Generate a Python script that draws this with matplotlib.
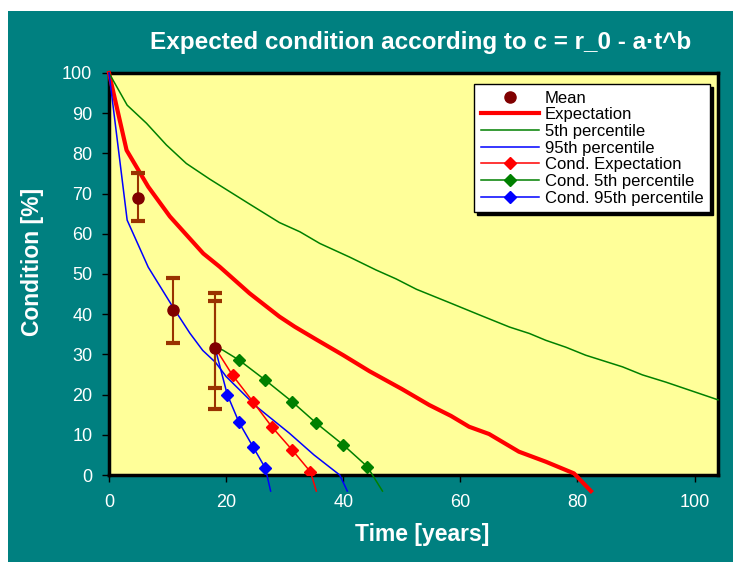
import numpy as np
import matplotlib
matplotlib.use("Agg")
import matplotlib.pyplot as plt
from matplotlib.patches import Rectangle
from matplotlib.lines import Line2D

plt.rcParams['font.family'] = ['Liberation Sans', 'DejaVu Sans']

# observed means with error bars
mean_t = [5.0, 10.9, 18.1]
mean_c = [68.9, 41.0, 31.7]
err_lo = [63.2, 32.9, 16.4]
err_hi = [75.1, 49.1, 45.3]
# second (inner) error bar at the last observation
err2_lo = [21.7]
err2_hi = [43.4]

# expectation curve
exp_t = [0, 3.0, 6.7, 10.4, 16.1, 18.9, 24, 29.1, 31.7, 35.4, 40, 44.5, 50, 54.7, 58.4, 61.5, 64.9, 70, 74.6, 79.4, 82.3]
exp_c = [100, 80.8, 71.7, 64.3, 55.1, 51.8, 45.2, 39.4, 36.9, 33.7, 29.8, 25.8, 21.4, 17.4, 14.7, 12, 10.2, 5.8, 3.3, 0.4, -4]

# 5th percentile
p5_t = [0, 3.1, 6.4, 9.8, 13.2, 17.2, 24, 29.1, 32.6, 36, 41.1, 45.6, 49, 52.5, 58.1,
        63.3, 68.4, 71.8, 74.6, 78, 81.4, 87.7, 91.1, 95.1, 104]
p5_c = [100, 92, 87.5, 82.1, 77.5, 73.6, 67.4, 62.8, 60.5, 57.6, 54.2, 51, 48.8, 46.2, 42.9,
        39.8, 36.8, 35.2, 33.5, 31.8, 29.8, 26.9, 24.9, 23.1, 18.7]

# 95th percentile
p95_t = [0, 3.1, 6.7, 10.9, 13.8, 16, 18.2, 20, 25.2, 30.8, 35, 39.4, 40.7]
p95_c = [100, 63.4, 51.7, 41.8, 35.3, 31, 28, 24.5, 17, 10.4, 5, 0, -4]

# conditional curves starting at last observation
cexp_t = [18.1, 21.1, 24.6, 27.8, 31.3, 34.4, 35.4]
cexp_c = [31.7, 24.8, 18.2, 12, 6.2, 0.8, -4]
c5_t = [18.1, 19.4, 22.2, 26.7, 31.3, 35.4, 40, 44.1, 46.7]
c5_c = [31.7, 31.1, 28.6, 23.6, 18.2, 12.9, 7.5, 2.1, -4]
c95_t = [18.1, 20.2, 22.2, 24.6, 26.7, 27.6]
c95_c = [31.7, 20, 13.1, 7, 1.7, -4]

teal = '#008080'
fig = plt.figure(figsize=(7.33, 5.62), dpi=100)
fig.patch.set_facecolor('white')
fig.patches.append(Rectangle((8 / 733, 0), 1, 1 - 11 / 562, transform=fig.transFigure,
                             facecolor=teal, edgecolor='none', zorder=-10))

ax = fig.add_axes([109 / 733, 1 - 475 / 562, (718 - 109) / 733, (475 - 73) / 562])
ax.set_facecolor('#FFFF99')

ax.plot(exp_t, exp_c, color='red', lw=3, clip_on=False, zorder=3)
ax.plot(p5_t, p5_c, color='green', lw=1.1, clip_on=False, zorder=3)
ax.plot(p95_t, p95_c, color='blue', lw=1.1, clip_on=False, zorder=3)

ax.plot(cexp_t[1:-1], cexp_c[1:-1], 'D', color='red', ms=6, zorder=5)
ax.plot(cexp_t, cexp_c, '-', color='red', lw=1.1, clip_on=False, zorder=4)
ax.plot(c5_t[2:-1], c5_c[2:-1], 'D', color='green', ms=6, zorder=5)
ax.plot(c5_t, c5_c, '-', color='green', lw=1.1, clip_on=False, zorder=4)
ax.plot(c95_t[1:-1], c95_c[1:-1], 'D', color='blue', ms=6, zorder=5)
ax.plot(c95_t, c95_c, '-', color='blue', lw=1.1, clip_on=False, zorder=4)

mc = np.array(mean_c)
ax.errorbar(mean_t, mean_c, yerr=[mc - np.array(err_lo), np.array(err_hi) - mc],
            fmt='none', ecolor='#993300', elinewidth=1.5, capsize=5, capthick=3, zorder=6)
ax.errorbar(mean_t[-1:], mean_c[-1:], yerr=[mc[-1:] - np.array(err2_lo), np.array(err2_hi) - mc[-1:]],
            fmt='none', ecolor='#993300', elinewidth=1.5, capsize=5, capthick=3, zorder=6)
ax.plot(mean_t, mean_c, 'o', color='#800000', ms=8, zorder=7)

ax.set_xlim(0, 104)
ax.set_ylim(0, 100)
ax.set_xticks(np.arange(0, 101, 20))
ax.set_yticks(np.arange(0, 101, 10))
ax.tick_params(colors='black', labelcolor='white', labelsize=13, length=5, width=1,
               direction='out')
ax.tick_params(axis='x', pad=9)
ax.tick_params(axis='y', pad=7)
for s in ax.spines.values():
    s.set_color('black')
    s.set_linewidth(2.5)

# axis titles and chart title placed as in the original
fig.text(422 / 733, 1 - 535 / 562, 'Time [years]', color='white', fontsize=16.5,
         fontweight='bold', ha='center', va='center')
fig.text(33 / 733, 1 - 262 / 562, 'Condition [%]', color='white', fontsize=16.5,
         fontweight='bold', ha='center', va='center', rotation=90)
fig.text(421 / 733, 1 - 42 / 562, 'Expected condition according to c = r_0 - a·t^b',
         color='white', fontsize=17.5, fontweight='bold', ha='center', va='center')

handles = [
    Line2D([], [], ls='none', marker='o', color='#800000', ms=8),
    Line2D([], [], color='red', lw=3),
    Line2D([], [], color='green', lw=1.1),
    Line2D([], [], color='blue', lw=1.1),
    Line2D([], [], color='red', lw=1.1, marker='D', ms=6),
    Line2D([], [], color='green', lw=1.1, marker='D', ms=6),
    Line2D([], [], color='blue', lw=1.1, marker='D', ms=6),
]
labels = ['Mean', 'Expectation', '5th percentile', '95th percentile',
          'Cond. Expectation', 'Cond. 5th percentile', 'Cond. 95th percentile']
leg = ax.legend(handles, labels, loc='upper right', bbox_to_anchor=(0.987, 0.973),
                borderaxespad=0, fontsize=12, frameon=True, fancybox=False,
                edgecolor='black', facecolor='white', framealpha=1, borderpad=0.4,
                labelspacing=0.1, handlelength=3.5, handletextpad=0.35,
                shadow={'color': 'black', 'alpha': 1})
leg.get_frame().set_linewidth(1)
leg.set_zorder(10)

fig.savefig('out.png', dpi=100, facecolor=fig.get_facecolor())
